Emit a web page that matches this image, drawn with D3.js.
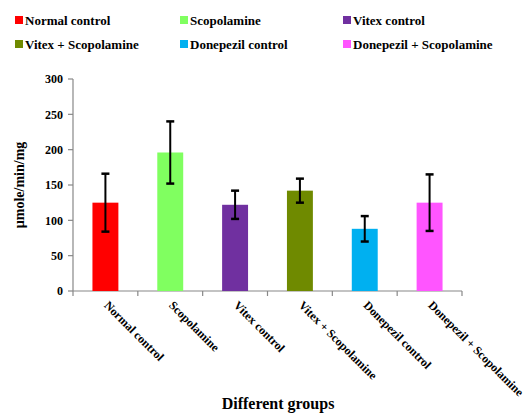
<!DOCTYPE html>
<html><head><meta charset="utf-8">
<script src="https://cdn.jsdelivr.net/npm/d3@7"></script>
<style>body{margin:0;background:#fff}svg{display:block}text{font-family:"Liberation Serif","DejaVu Serif",serif;font-weight:bold}</style>
</head><body>
<script>
const categories = ["Normal control","Scopolamine","Vitex control","Vitex + Scopolamine","Donepezil control","Donepezil + Scopolamine"];
const legendLabels = ["Normal control","Scopolamine","Vitex control","Vitex + Scopolamine","Donepezil control","Donepezil + Scopolamine"];
const values = [125, 196, 122, 142, 88, 125];
const errors = [41, 44, 20, 17, 18, 40];
const colors = ["#ff0000","#80ff60","#7030a0","#6f8a00","#00b0f0","#ff55ff"];
const yTicks = [0,50,100,150,200,250,300];

const W=532,H=418;
const svg=d3.select("body").append("svg").attr("width",W).attr("height",H);

const x=d3.scaleBand().domain(categories).range([73,462]).paddingInner(0.6).paddingOuter(0.3);
const xb=d3.scaleBand().domain(categories).range([73,462]);
const y=d3.scaleLinear().domain([0,300]).range([291,79]);

const axisColor="#888";
svg.append("line").attr("x1",73).attr("x2",73).attr("y1",y(300)).attr("y2",y(0)).attr("stroke",axisColor).attr("stroke-width",1.2);
svg.append("line").attr("x1",73).attr("x2",462).attr("y1",y(0)).attr("y2",y(0)).attr("stroke",axisColor).attr("stroke-width",1.2);
svg.selectAll(".yt").data(yTicks).enter().append("line")
  .attr("x1",68).attr("x2",73).attr("y1",d=>y(d)).attr("y2",d=>y(d)).attr("stroke",axisColor).attr("stroke-width",1.2);
svg.selectAll(".ytl").data(yTicks).enter().append("text")
  .attr("x",63).attr("y",d=>y(d)).attr("dy","0.35em").attr("text-anchor","end")
  .attr("font-size",12).text(d=>d);
const bounds=categories.map(c=>xb(c)).concat([462]);
svg.selectAll(".xt").data(bounds).enter().append("line")
  .attr("x1",d=>d).attr("x2",d=>d).attr("y1",y(0)).attr("y2",y(0)+5).attr("stroke",axisColor).attr("stroke-width",1.2);

svg.selectAll(".bar").data(categories).enter().append("rect")
  .attr("x",d=>x(d)).attr("width",x.bandwidth())
  .attr("y",(d,i)=>y(values[i])).attr("height",(d,i)=>y(0)-y(values[i]))
  .attr("fill",(d,i)=>colors[i]);

const eb=svg.selectAll(".eb").data(categories).enter().append("g");
eb.append("line").attr("x1",d=>x(d)+x.bandwidth()/2).attr("x2",d=>x(d)+x.bandwidth()/2)
  .attr("y1",(d,i)=>y(values[i]+errors[i])).attr("y2",(d,i)=>y(values[i]-errors[i]))
  .attr("stroke","#000").attr("stroke-width",2);
[1,-1].forEach(s=>{
  eb.append("line").attr("x1",d=>x(d)+x.bandwidth()/2-4).attr("x2",d=>x(d)+x.bandwidth()/2+4)
    .attr("y1",(d,i)=>y(values[i]+s*errors[i])).attr("y2",(d,i)=>y(values[i]+s*errors[i]))
    .attr("stroke","#000").attr("stroke-width",2.5);
});

svg.selectAll(".xl").data(categories).enter().append("text")
  .attr("transform",d=>`translate(${x(d)+x.bandwidth()/2-2},${y(0)+15}) rotate(45)`)
  .attr("font-size",12).text(d=>d);

svg.append("text").attr("x",278).attr("y",409).attr("text-anchor","middle")
  .attr("font-size",16).text("Different groups");
svg.append("text").attr("transform",`translate(24,${y(150)}) rotate(-90)`).attr("text-anchor","middle")
  .attr("font-size",14).text("µmole/min/mg");

const lx=[15,180,343], ly=[20,44];
const lg=svg.selectAll(".lg").data(legendLabels).enter().append("g")
  .attr("transform",(d,i)=>`translate(${lx[i%3]},${ly[Math.floor(i/3)]})`);
lg.append("rect").attr("x",0).attr("y",-4).attr("width",8).attr("height",8).attr("fill",(d,i)=>colors[i]);
lg.append("text").attr("x",10).attr("dy","0.35em").attr("font-size",13).text(d=>d);
</script>
</body></html>
